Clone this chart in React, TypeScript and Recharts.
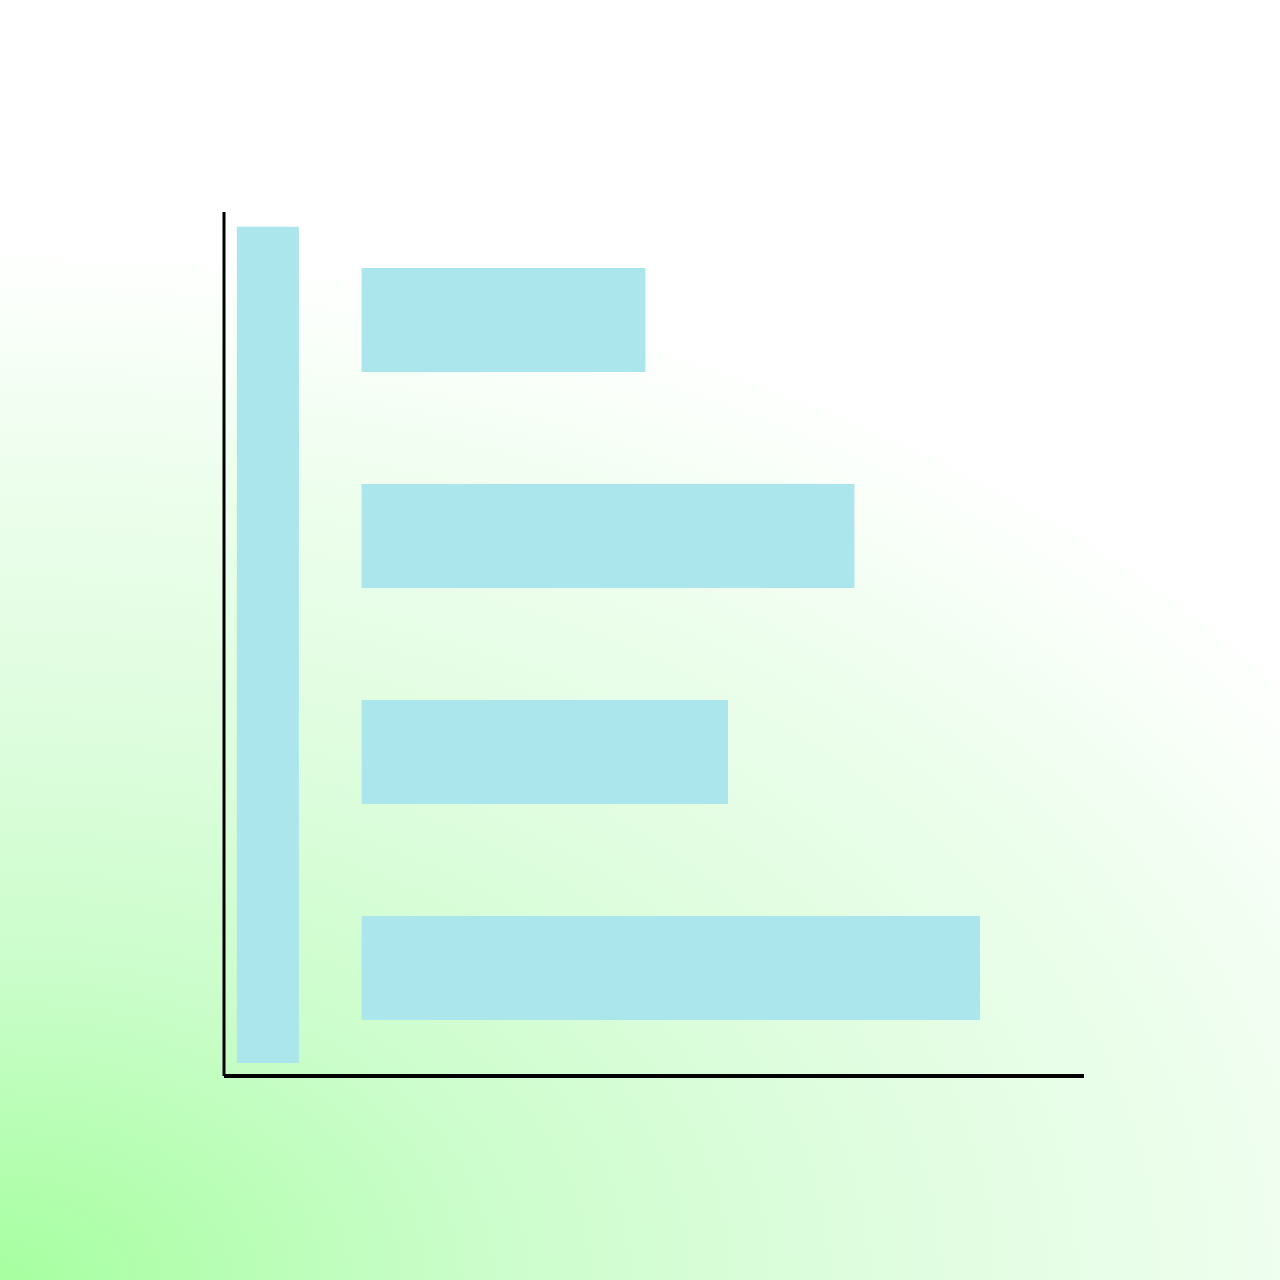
import React from 'react';
import { BarChart, Bar, XAxis, YAxis } from 'recharts';

const categories = ['A', 'B', 'C', 'D'];
const barStarts = [1.6, 1.6, 1.6, 1.6];
const barEnds = [4.9, 7.33, 5.86, 8.79];
const columnCenter = 0.51;
const columnSpan = [1.5, 98.3];

const data = categories.map((c, i) => ({ cat: c, range: [barStarts[i], barEnds[i]] }));
const columnData = [{ x: columnCenter, span: columnSpan }];

const BAR_COLOR = '#aae6ec';

export default function App() {
  return (
    <div
      style={{
        position: 'absolute',
        left: 0,
        top: 0,
        width: 1280,
        height: 1280,
        background:
          'radial-gradient(ellipse 2000px 1300px at 0% 100%, #a6ffa0 0%, #ccfdcc 25%, #e0fde0 45%, #ebfeeb 60%, #ffffff 80%)',
      }}
    >
      <div style={{ position: 'absolute', left: 0, top: 0 }}>
        <BarChart
          width={1280}
          height={1280}
          data={columnData}
          margin={{ top: 212, left: 224, right: 196, bottom: 204 }}
        >
          <XAxis type="number" dataKey="x" domain={[0, 10]} allowDataOverflow hide />
          <YAxis type="number" domain={[0, 100]} allowDataOverflow hide />
          <Bar dataKey="span" fill={BAR_COLOR} barSize={62} isAnimationActive={false} />
        </BarChart>
      </div>
      <div style={{ position: 'absolute', left: 0, top: 0 }}>
        <BarChart
          width={1280}
          height={1280}
          data={data}
          layout="vertical"
          margin={{ top: 212, left: 223, right: 196, bottom: 203 }}
        >
          <XAxis
            type="number"
            domain={[0, 10]}
            allowDataOverflow
            tick={false}
            tickLine={false}
            height={1}
            axisLine={{ stroke: '#000', strokeWidth: 4 }}
          />
          <YAxis
            type="category"
            dataKey="cat"
            tick={false}
            tickLine={false}
            width={1}
            axisLine={{ stroke: '#000', strokeWidth: 3 }}
          />
          <Bar dataKey="range" fill={BAR_COLOR} barSize={104} isAnimationActive={false} />
        </BarChart>
      </div>
    </div>
  );
}
